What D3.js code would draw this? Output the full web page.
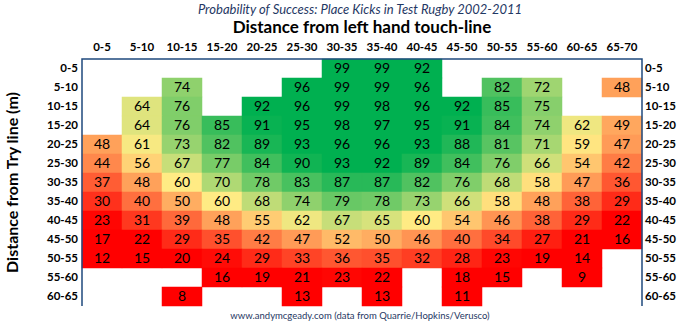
<!DOCTYPE html>
<html>
<head>
<meta charset="utf-8">
<script src="https://cdn.jsdelivr.net/npm/d3@7"></script>
<style>
	body { margin: 0; background: #fff; }
	svg { display: block; font-family: Lato, "Open Sans", sans-serif; }
</style>
</head>
<body>
<div id="chart"></div>
<script>
// distance bands (m)
var cols = ['0-5','5-10','10-15','15-20','20-25','25-30','30-35','35-40','40-45','45-50','50-55','55-60','60-65','65-70'];
var rows = ['0-5','5-10','10-15','15-20','20-25','25-30','30-35','35-40','40-45','45-50','50-55','55-60','60-65'];

// success % per row (null = no kicks)
var r0_5   = [null,null,null,null,null,null,99,99,92,null,null,null,null,null];
var r5_10  = [null,null,74,null,null,96,99,99,96,null,82,72,null,48];
var r10_15 = [null,64,76,null,92,96,99,98,96,92,85,75,null,null];
var r15_20 = [null,64,76,85,91,95,98,97,95,91,84,74,62,49];
var r20_25 = [48,61,73,82,89,93,96,96,93,88,81,71,59,47];
var r25_30 = [44,56,67,77,84,90,93,92,89,84,76,66,54,42];
var r30_35 = [37,48,60,70,78,83,87,87,82,76,68,58,47,36];
var r35_40 = [30,40,50,60,68,74,79,78,73,66,58,48,38,29];
var r40_45 = [23,31,39,48,55,62,67,65,60,54,46,38,29,22];
var r45_50 = [17,22,29,35,42,47,52,50,46,40,34,27,21,16];
var r50_55 = [12,15,20,24,29,33,36,35,32,28,23,19,14,null];
var r55_60 = [null,null,null,16,19,21,23,22,null,18,15,null,9,null];
var r60_65 = [null,null,8,null,null,13,null,13,null,11,null,null,null,null];

var values = [r0_5,r5_10,r10_15,r15_20,r20_25,r25_30,r30_35,r35_40,r40_45,r45_50,r50_55,r55_60,r60_65];

var cells = [];
values.forEach(function(row, i){
	row.forEach(function(v, j){
		if(v != null) cells.push({row: rows[i], col: cols[j], v: v});
	});
});

var width = 679, height = 324;
var margin = {top: 59, right: 37, bottom: 18, left: 82};

var svg = d3.select('#chart').append('svg')
	.attr('width', width).attr('height', height);

var x = d3.scaleBand().domain(cols).range([margin.left, width - margin.right]);
var y = d3.scaleBand().domain(rows).range([margin.top, margin.top + 19 * rows.length]);

// red -> yellow -> green like the excel colour scale
var color = d3.scaleLinear()
	.domain([22, 60, 92])
	.range(['#ff0000', '#ffeb84', '#00b050'])
	.clamp(true);

var g = svg.append('g');

g.selectAll('rect')
	.data(cells)
	.enter().append('rect')
	.attr('x', function(d){ return x(d.col); })
	.attr('y', function(d){ return y(d.row); })
	.attr('width', x.bandwidth())
	.attr('height', y.bandwidth())
	.attr('fill', function(d){ return color(d.v); })
	.attr('stroke', function(d){ return color(d.v); })
	.attr('stroke-width', 0.5);

g.selectAll('text.val')
	.data(cells)
	.enter().append('text')
	.attr('class', 'val')
	.attr('x', function(d){ return x(d.col) + x.bandwidth() / 2; })
	.attr('y', function(d){ return y(d.row) + y.bandwidth() / 2 + 1; })
	.attr('text-anchor', 'middle')
	.attr('dominant-baseline', 'middle')
	.attr('font-size', 14)
	.attr('fill', '#000')
	.text(function(d){ return d.v; });

// axes
var axisColor = '#1f497d';
var x0 = x.range()[0], x1 = x.range()[1];
var y0 = y.range()[0], y1 = y.range()[1];

svg.append('path')
	.attr('d', 'M' + x0 + ',' + y1 + 'V' + y0 + 'H' + x1 + 'V' + y1)
	.attr('fill', 'none')
	.attr('stroke', axisColor)
	.attr('stroke-width', 1.5);

svg.append('g').selectAll('text')
	.data(cols)
	.enter().append('text')
	.attr('x', function(d){ return x(d) + x.bandwidth() / 2; })
	.attr('y', 51)
	.attr('text-anchor', 'middle')
	.attr('font-size', 11.5)
	.attr('font-weight', 'bold')
	.text(function(d){ return d; });

svg.append('g').selectAll('text')
	.data(rows)
	.enter().append('text')
	.attr('x', x0 - 4)
	.attr('y', function(d){ return y(d) + y.bandwidth() / 2 + 1; })
	.attr('text-anchor', 'end')
	.attr('dominant-baseline', 'middle')
	.attr('font-size', 11.5)
	.attr('font-weight', 'bold')
	.text(function(d){ return d; });

svg.append('g').selectAll('text')
	.data(rows)
	.enter().append('text')
	.attr('x', x1 + 3)
	.attr('y', function(d){ return y(d) + y.bandwidth() / 2 + 1; })
	.attr('text-anchor', 'start')
	.attr('dominant-baseline', 'middle')
	.attr('font-size', 11.5)
	.attr('font-weight', 'bold')
	.text(function(d){ return d; });

// titles
svg.append('text')
	.attr('x', 360).attr('y', 14)
	.attr('text-anchor', 'middle')
	.attr('font-size', 13)
	.attr('font-style', 'italic')
	.attr('fill', '#1f3864')
	.text('Probability of Success: Place Kicks in Test Rugby 2002-2011');

svg.append('text')
	.attr('x', 362).attr('y', 33)
	.attr('text-anchor', 'middle')
	.attr('font-size', 17)
	.attr('font-weight', 'bold')
	.text('Distance from left hand touch-line');

svg.append('text')
	.attr('transform', 'translate(18,' + ((y0 + y1) / 2) + ') rotate(-90)')
	.attr('text-anchor', 'middle')
	.attr('font-size', 16)
	.attr('font-weight', 'bold')
	.text('Distance from Try line (m)');

svg.append('text')
	.attr('x', 360).attr('y', 319)
	.attr('text-anchor', 'middle')
	.attr('font-size', 9.5)
	.attr('fill', '#1f3864')
	.text('www.andymcgeady.com (data from Quarrie/Hopkins/Verusco)');
</script>
</body>
</html>
